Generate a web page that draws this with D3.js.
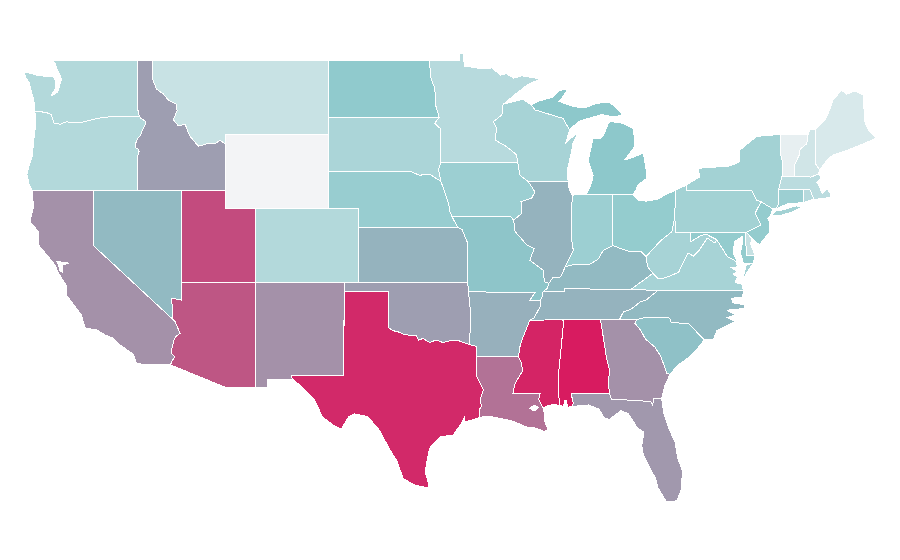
<!DOCTYPE html>
<html><head><meta charset="utf-8">
<script src="https://cdnjs.cloudflare.com/ajax/libs/d3/7.8.5/d3.min.js"></script>
<style>html,body{margin:0;background:#fff}svg{display:block}</style></head>
<body><svg id="map" width="900" height="560"></svg>
<script>
// State values
const stateNames  = ["AL","AZ","AR","CA","CO","CT","DE","FL","GA","ID","IL","IN","IA","KS","KY","LA","ME","MD","MA","MI","MN","MS","MO","MT","NE","NV","NH","NJ","NM","NY","NC","ND","OH","OK","OR","PA","RI","SC","SD","TN","TX","UT","VT","VA","WA","WV","WI","WY"];
const stateValues = [100,83,57,66,31,42,22,64,66,62,56,42,42,56,54,75,13,46,27,49.5,29,97.5,51,21,44,54,17,46,66,39,54,48,46,62,31,39,29,52,35,56,96,86,6,37,31,37,37,0];
const colorStops  = ["#f3f4f6","#8cc8cb","#d81b60"];
const colorDomain = [0,50,100];

// Shared borders, as [longitude, latitude]
const columbia=[[-124.05,46.27],[-123.7,46.25],[-123.4,46.2],[-123.17,46.17],[-122.9,46.08],[-122.8,45.85],[-122.7,45.62],[-122.3,45.55],[-121.9,45.68],[-121.2,45.65],[-120.9,45.65],[-120.5,45.72],[-119.9,45.84],[-119.3,45.93],[-119,45.95],[-118.98,46],[-116.92,46]];
const snake=[[-116.92,46],[-116.78,45.85],[-116.55,45.75],[-116.47,45.6],[-116.67,45.3],[-116.85,44.95],[-117.05,44.75],[-117.2,44.45],[-117.2,44.3],[-116.97,44.2],[-116.93,44.1],[-117.03,43.83],[-117.03,42]];
const bitterroot=[[-116.05,49],[-116.05,48.05],[-115.74,47.45],[-115.3,47.2],[-114.95,46.87],[-114.4,46.63],[-114.35,46.3],[-114.6,45.8],[-114.27,45.46],[-113.8,45.55],[-113.6,45.1],[-113.47,44.9],[-113.1,44.55],[-112.9,44.37],[-112.34,44.49],[-111.75,44.5],[-111.44,44.7],[-111.05,44.47]];
const coloradoR=[[-114.63,35],[-114.5,34.9],[-114.15,34.25],[-114.43,34.08],[-114.55,33.9],[-114.72,33.4],[-114.72,33.15],[-114.5,33],[-114.72,32.72]];
const redRiver=[[-100,34.56],[-99.7,34.4],[-99.2,34.3],[-98.95,34.2],[-98.6,34.15],[-98.1,34.13],[-97.95,33.88],[-97.65,33.98],[-97.2,33.75],[-96.9,33.85],[-96.6,33.85],[-96.3,33.75],[-95.8,33.85],[-95.3,33.88],[-94.9,33.75],[-94.48,33.64]];
const sabine=[[-94.04,33.02],[-94.04,32],[-93.8,31.6],[-93.55,31.2],[-93.75,30.7],[-93.7,30.3],[-93.85,30.1],[-93.85,29.7]];
const moRiverNE=[[-96.45,42.49],[-96.25,42.05],[-96.1,41.7],[-95.9,41.2],[-95.85,40.9],[-95.7,40.58]];
const miMNWI=[[-92.2,46.7],[-92.3,46.05],[-92.87,45.7],[-92.65,45.33],[-92.76,44.7],[-91.97,44.34],[-91.3,43.9],[-91.22,43.5]];
const miIAWI=[[-91.22,43.5],[-91.07,42.8],[-90.5,42.45]];
const miIAIL=[[-90.5,42.45],[-90.05,41.9],[-90.28,41.55],[-91,41.37],[-90.95,40.74],[-91.5,40.37]];
const miMOIL=[[-91.5,40.37],[-91.4,39.75],[-90.6,39.03],[-90.1,38.84],[-90.4,38.2],[-89.5,37.67],[-89.4,37.04],[-89.1,36.96]];
const miKYMO=[[-89.1,36.96],[-89.2,36.7],[-89.5,36.5]];
const miTNMO=[[-89.5,36.5],[-89.55,36.25],[-89.7,36]];
const miTNAR=[[-89.7,36],[-89.7,35.7],[-90.1,35.1],[-90.4,34.95]];
const miMSAR=[[-90.4,34.95],[-90.85,34.07],[-91.07,33.53],[-91.17,33]];
const miMSLA=[[-91.17,33],[-90.96,32.65],[-90.9,32.2],[-91.4,31.55],[-91.55,31]];
const bootheel=[[-89.7,36],[-90.4,36.05],[-90.05,36.45]];
const pearl=[[-91.55,31],[-89.7,31],[-89.8,30.67],[-89.5,30.2]];
const chatt=[[-85.6,35],[-85.18,32.87],[-85,32.3],[-85.05,31.55],[-85,31]];
const gaFL=[[-85,31],[-84.86,30.7],[-82.2,30.57],[-82.05,30.37],[-82,30.75],[-81.45,30.72]];
const savannah=[[-83.11,35],[-83.27,34.8],[-82.9,34.45],[-82.55,33.95],[-81.9,33.5],[-81.5,33],[-81.1,32.1],[-80.88,32.03]];
const tnSouthEast=[[-84.32,34.99],[-84.05,35.4],[-83.5,35.57],[-82.9,35.95],[-82.5,36.05],[-81.68,36.59]];
const kyVA=[[-83.68,36.6],[-83.4,36.7],[-82.05,37.5]];
const tug=[[-82.05,37.5],[-82.4,37.85],[-82.5,38.3],[-82.5,38.4]];
const ohioOH=[[-82.5,38.4],[-82.85,38.67],[-83.6,38.67],[-84.3,38.85],[-84.75,39]];
const ohioIN=[[-84.75,39],[-85.4,38.75],[-85.75,38.27],[-86.3,38],[-86.8,37.95],[-87.5,37.95],[-88,37.85]];
const ohioIL=[[-88,37.85],[-88.3,37.3],[-88.85,37.25],[-89.1,36.96]];
const wabash=[[-88,37.85],[-87.45,38.75],[-87.56,39.3],[-87.53,41.72]];
const ohioWV=[[-82.5,38.4],[-82,38.85],[-81.45,39.3],[-80.75,39.75],[-80.55,40.55]];
const vaWV=[[-77.72,39.32],[-77.83,39.13],[-78.35,39.4],[-78.87,38.77],[-79.3,38.42],[-79.65,38.6],[-80.3,37.55],[-81.2,37.25],[-81.68,37.2],[-82.05,37.5]];
const mdWV=[[-79.48,39.72],[-79.48,39.2],[-78.75,39.55],[-78.4,39.6],[-77.72,39.32]];
const potomac=[[-77.72,39.32],[-77.25,38.75],[-77,38.4],[-76.5,38.2],[-76.35,38.05]];
const delaware=[[-75.7,39.72],[-74.7,40.1],[-75.1,40.75],[-74.7,41.36]];
const delawareS=[[-75.7,39.72],[-75.35,39.4]];
const nyPA=[[-79.76,42.27],[-79.76,42],[-75.35,42],[-75,41.45],[-74.7,41.36]];
const ctRiver=[[-72.46,42.73],[-72.4,43.4],[-72.1,43.9],[-72.05,44.2],[-71.6,44.5],[-71.5,45.01]];
const menominee=[[-90.3,46.6],[-90.05,46.33],[-88.15,45.87],[-87.7,45.25]];
const rev=a=>a.slice().reverse();

const stateRings={
WA:[[[-117.03,49],[-122.76,49],[-122.6,48.8],[-122.5,48.5],[-122.35,48.3],[-122.2,48],[-122.35,47.6],[-122.45,47.3],[-122.75,47.15],[-122.9,47.1],[-122.6,47.5],[-122.6,47.85],[-122.75,48.13],[-123.15,48.15],[-123.7,48.17],[-124.3,48.3],[-124.72,48.38],[-124.65,48.1],[-124.4,47.8],[-124.2,47.2],[-124.1,46.9],[-124.05,46.65],...columbia,[-117.04,46.42]]],
OR:[[...columbia,...snake,[-124.2,42],[-124.4,42.3],[-124.55,42.84],[-124.4,43.3],[-124.2,43.8],[-124.1,44.5],[-124.05,45],[-123.95,45.5],[-123.95,46]]],
CA:[[[-124.2,42],[-120.04,42],[-120.04,39],...coloradoR,[-114.8,32.55],[-117.1,32.6],[-117.3,33.1],[-118.35,33.7],[-118.7,34],[-119.2,34.15],[-119.8,34.43],[-120.6,34.55],[-120.85,35.25],[-121.85,36.3],[-121.85,36.8],[-122.4,37.5],[-122.65,37.95],[-123.1,38.4],[-123.77,39.03],[-123.77,39.75],[-124.35,40.3],[-124.1,41.1]],[[-122.55,38.15],[-122.2,38.1],[-121.7,38.05],[-122.1,37.95],[-122.1,37.55],[-122.3,37.6],[-122.4,37.95]]],
NV:[[[-120.04,42],[-114.08,42],[-114.08,36.05],[-114.72,36.15],[-114.63,35],[-120.04,39]]],
ID:[[[-117.04,49],[-116.05,49],...bitterroot,[-111.05,42],[-117.03,42],...rev(snake),[-117.04,46.42]]],
MT:[[...bitterroot,[-111.05,45],[-104.05,45],[-104.05,49]]],
UT:[[[-114.08,42],[-111.05,42],[-111.05,41],[-109.05,41],[-109.05,37],[-114.08,37]]],
CO:[[[-109.05,41],[-102.05,41],[-102.05,37],[-109.05,37]]],
AZ:[[[-114.08,37],[-109.05,37],[-109.05,31.33],[-111.07,31.33],[-114.8,32.55],...rev(coloradoR),[-114.72,36.15],[-114.08,36.05]]],
NM:[[[-109.05,37],[-103,37],[-103.04,32],[-106.62,32],[-106.53,31.78],[-108.2,31.78],[-108.2,31.33],[-109.05,31.33]]],
TX:[[[-103,36.5],[-100,36.5],...redRiver,[-94.04,33.55],...sabine,[-94.4,29.55],[-94.8,29.47],[-94.85,29.7],[-95,29.45],[-95.6,28.75],[-96.5,28.66],[-97.2,28.05],[-97.4,27.3],[-97.5,26.77],[-97.25,26.05],[-97.35,25.9],[-98.2,26.05],[-99,26.4],[-99.45,27.4],[-99.9,27.95],[-100.6,29],[-101.4,29.75],[-102.3,29.9],[-102.7,29.75],[-103.2,29.07],[-103.75,29.3],[-104.5,29.75],[-104.8,30.3],[-105.1,30.75],[-106,31.45],[-106.53,31.78],[-106.62,32],[-103.04,32]]],
OK:[[[-103,37],[-94.62,37],[-94.43,35.4],[-94.48,33.64],...rev(redRiver),[-100,36.5],[-103,36.5]]],
KS:[[[-102.05,40],[-95.31,40],[-95,39.85],[-94.6,39.1],[-94.62,37],[-102.05,37]]],
NE:[[[-104.05,43],[-98.5,43],[-97.9,42.8],[-97.2,42.85],[-96.7,42.6],...moRiverNE,[-95.31,40],[-102.05,40],[-102.05,41],[-104.05,41]]],
SD:[[[-104.05,45.94],[-96.56,45.94],[-96.85,45.6],[-96.45,45.3],[-96.45,43.5],[-96.6,43.1],[-96.45,42.49],[-96.7,42.6],[-97.2,42.85],[-97.9,42.8],[-98.5,43],[-104.05,43]]],
ND:[[[-104.05,49],[-97.23,49],[-97.1,48],[-96.85,47.5],[-96.8,46.6],[-96.56,45.94],[-104.05,45.94]]],
MN:[[[-97.23,49],[-95.15,49],[-95.15,49.38],[-94.9,49.35],[-94.85,48.7],[-94.4,48.65],[-93.6,48.55],[-92.95,48.6],[-92.4,48.2],[-92,48.3],[-91.5,48.04],[-90.96,48.18],[-90.4,48.1],[-89.7,48],[-90.6,47.67],[-91.5,47.1],[-92.1,46.7],...miMNWI,[-96.45,43.5],[-96.45,45.3],[-96.85,45.6],[-96.56,45.94],[-96.8,46.6],[-96.85,47.5],[-97.1,48]]],
IA:[[[-96.45,43.5],...miIAWI,...miIAIL,[-91.7,40.58],[-95.7,40.58],...rev(moRiverNE),[-96.6,43.1]]],
MO:[[[-95.7,40.58],[-91.7,40.58],...miMOIL,...miKYMO,...miTNMO,...bootheel,[-94.62,36.5],[-94.62,37],[-94.6,39.1],[-95,39.85],[-95.31,40]]],
AR:[[[-94.62,36.5],[-90.05,36.45],...rev(bootheel).slice(1),...miTNAR,...miMSAR,[-94.04,33.02],[-94.04,33.55],[-94.48,33.64],[-94.43,35.4]]],
LA:[[...miMSLA,...pearl,[-89.4,29.9],[-89.4,29.5],[-89.15,29.05],[-89.4,28.95],[-90.1,29.15],[-90.7,29.2],[-91.5,29.5],[-92.1,29.6],[-93.2,29.78],[-93.85,29.7],...rev(sabine)],[[-90.4,30.2],[-90.1,30.38],[-89.8,30.25],[-90.1,30.05]]],
MS:[[[-88.2,35],[-88.1,34.9],[-88.47,31.9],[-88.4,30.37],[-88.9,30.4],[-89.3,30.3],...rev(pearl),...rev(miMSLA),...rev(miMSAR)]],
AL:[[[-88.2,35],...chatt,[-87.6,31],[-87.45,30.5],[-87.5,30.3],[-87.85,30.25],[-87.9,30.6],[-88.05,30.6],[-88.1,30.3],[-88.4,30.37],[-88.47,31.9],[-88.1,34.9]]],
GA:[[[-85.6,35],...savannah,[-81.2,31.5],[-81.45,30.72],...rev(gaFL),[-85.05,31.55],[-85,32.3],[-85.18,32.87]]],
FL:[[[-87.6,31],...gaFL,[-81.3,29.9],[-80.9,29],[-80.55,28.4],[-80.35,27.5],[-80.03,26.8],[-80.13,25.8],[-80.4,25.2],[-81.1,25.13],[-81.7,25.9],[-81.85,26.4],[-82.2,26.9],[-82.7,27.7],[-82.8,28.2],[-82.65,28.9],[-83.1,29.15],[-83.7,29.9],[-84.2,30.08],[-85,29.6],[-85.35,29.68],[-85.7,30.15],[-86.4,30.38],[-87.5,30.3],[-87.45,30.5]]],
SC:[[[-83.11,35],[-82.5,35.13],[-80.9,35.08],[-80.8,34.82],[-79.65,34.8],[-78.55,33.9],[-79.1,33.35],[-79.6,32.95],[-80.4,32.5],...rev(savannah)]],
NC:[[[-81.68,36.59],[-75.9,36.55],[-75.95,36.2],[-76.7,36.15],[-76.6,35.9],[-75.8,35.8],[-75.8,35.6],[-77,35.5],[-76.45,35.25],[-77,35.1],[-76.45,34.9],[-77.7,34.4],[-77.95,33.9],[-78.55,33.9],[-79.65,34.8],[-80.8,34.82],[-80.9,35.08],[-82.5,35.13],[-83.11,35],...tnSouthEast]],
TN:[[[-90.4,34.95],[-88.2,35],[-85.6,35],...tnSouthEast,[-83.68,36.6],[-88.07,36.68],[-88.07,36.5],...miTNMO,...miTNAR]],
KY:[[[-89.5,36.5],[-88.07,36.5],[-88.07,36.68],...kyVA,...tug,...ohioOH,...ohioIN,...ohioIL,...miKYMO]],
IL:[[[-90.5,42.45],[-87.8,42.48],[-87.8,42.2],...rev(wabash),...ohioIL,...rev(miMOIL),...rev(miIAIL)]],
IN:[[[-87.53,41.72],[-87.2,41.75],[-86.55,41.76],[-84.81,41.76],[-84.75,39],...ohioIN.slice(1),...wabash]],
OH:[[[-84.81,41.76],[-83.4,41.73],[-83,41.45],[-82.5,41.4],[-81.7,41.5],[-81.2,41.75],[-80.52,41.98],...rev(ohioWV),...ohioOH]],
MI:[[[-86.55,41.76],[-84.81,41.76],[-83.4,41.73],[-83.15,42.05],[-83.1,42.25],[-82.5,42.6],[-82.45,42.9],[-82.7,44],[-83.45,43.75],[-83.95,43.63],[-83.27,44.35],[-83.3,44.85],[-83.4,45.35],[-84.2,45.63],[-84.95,45.7],[-85.1,45.55],[-85.4,44.95],[-85.6,44.8],[-86.1,44.8],[-86.44,43.6],[-86.1,42.8],[-86.2,42.4]],
    [[-90.3,46.6],[-89.7,46.83],[-88.9,47],[-88.4,47.38],[-87.8,47.47],[-88.2,47],[-88.45,46.8],[-87.4,46.5],[-86.6,46.45],[-85.9,46.68],[-85,46.75],[-84.55,46.45],[-84.1,46.05],[-84.75,45.95],[-85.5,46.08],[-86.3,45.9],[-87.1,45.7],...rev(menominee)],
    [[-89.15,47.85],[-88.55,48.05],[-88.9,47.9]]],
WI:[[[-92.2,46.7],[-91.9,46.7],[-90.85,46.9],...menominee,[-87.95,44.55],[-87.1,45.15],[-87.5,44.5],[-87.55,44.1],[-87.85,43.1],[-87.8,42.48],...rev(miIAWI),...rev(miMNWI)]],
NY:[[...nyPA,[-73.9,40.98],[-73.65,41],[-73.5,41.3],[-73.5,42.05],[-73.27,42.75],[-73.25,43.55],[-73.4,44],[-73.35,45.01],[-75,44.9],[-76.15,44.15],[-76.15,43.53],[-76.8,43.3],[-77.5,43.26],[-79,43.17],[-78.85,42.72]],
    [[-74.05,40.6],[-73.75,40.85],[-73.1,40.95],[-72.3,41.15],[-71.9,41.07],[-72.6,40.8],[-73.5,40.6]]],
PA:[[[-80.52,41.98],...nyPA,...rev(delaware),[-80.52,39.72],[-80.55,40.55]]],
NJ:[[[-74.7,41.36],[-73.9,40.98],[-74.05,40.65],[-74.25,40.45],[-74.1,40.3],[-74.1,39.75],[-74.8,39.05],[-75.1,39.2],...rev(delawareS),...delaware]],
DE:[[[-75.75,39.72],...delawareS,[-75.4,39.05],[-75.1,38.45],[-75.7,38.46]]],
MD:[[[-79.48,39.72],[-75.75,39.72],[-75.7,38.46],[-75.1,38.45],[-75.25,38.03],[-75.9,38.05],[-76.1,38.6],[-76,38.95],[-75.95,39.5],[-76.05,39.45],[-76.5,39.2],[-76.6,38.6],[-76.35,38.2],...rev(potomac),...rev(mdWV).slice(1)]],
WV:[[[-80.55,40.55],[-80.52,39.72],...mdWV,...vaWV,...tug,...ohioWV]],
VA:[[[-83.68,36.6],[-81.68,36.59],[-75.9,36.55],[-76,36.9],[-76.45,37],[-76.3,37.3],[-76.6,37.45],[-76.3,37.6],[-76.7,37.8],[-76.3,37.85],...rev(potomac),...vaWV,[-83.4,36.7]],
    [[-75.25,38.03],[-75.7,37.95],[-75.95,37.15],[-75.6,37.6]]],
VT:[[[-73.35,45.01],...rev(ctRiver),[-73.27,42.75],[-73.25,43.55],[-73.4,44]]],
NH:[[[-71.5,45.01],[-71.4,45.25],[-70.98,45.3],[-70.98,43.4],[-70.7,43.07],[-70.82,42.87],[-71.3,42.7],...ctRiver]],
ME:[[[-70.98,45.3],[-70.4,45.75],[-70.13,46.15],[-69.8,46.87],[-69.23,47.4],[-68.9,47.18],[-68.3,47.36],[-67.77,47.13],[-67.65,45.7],[-67.45,45.3],[-66.9,44.8],[-67.6,44.55],[-68.2,44.35],[-69,44.1],[-69.8,43.9],[-70.25,43.6],[-70.7,43.07],[-70.98,43.4]]],
MA:[[[-73.5,42.05],[-71.8,42.02],[-71.38,42.02],[-71.12,41.5],[-70.65,41.52],[-70,41.6],[-70,41.8],[-70.2,42.05],[-70.55,41.8],[-70.75,42.2],[-70.9,42.4],[-70.6,42.65],[-70.82,42.87],[-71.3,42.7],[-72.46,42.73],[-73.27,42.75]]],
RI:[[[-71.8,42.02],[-71.38,42.02],[-71.12,41.5],[-71.85,41.32]]],
CT:[[[-73.5,42.05],[-71.8,42.02],[-71.85,41.32],[-72.9,41.25],[-73.65,41],[-73.5,41.3]]],
WY:[[[-111.05,45],[-104.05,45],[-104.05,41],[-111.05,41]]]
};

const svg=d3.select("#map");
const lonScale=d3.scaleLinear().domain([-117.04,-104.05]).range([137.5,328.8]);
const latScale=d3.scaleLinear().domain([49,25]).range([60.5,504.5]);
const color=d3.scaleLinear().domain(colorDomain).range(colorStops);
const path=d3.geoPath().projection(d3.geoTransform({point(lon,lat){this.stream.point(lonScale(lon),latScale(lat));}}));
const closeRing=r=>[...r,r[0]];
const rows=stateNames.map((n,i)=>({name:n,value:stateValues[i],geo:{type:"MultiPolygon",coordinates:stateRings[n].map(r=>[closeRing(r)])}}));
svg.selectAll("path.state").data(rows).join("path")
  .attr("class","state")
  .attr("d",d=>path(d.geo))
  .attr("fill",d=>color(d.value))
  .attr("fill-rule","evenodd")
  .attr("stroke","#fff").attr("stroke-width",1)
  .attr("shape-rendering","crispEdges");
</script></body></html>
